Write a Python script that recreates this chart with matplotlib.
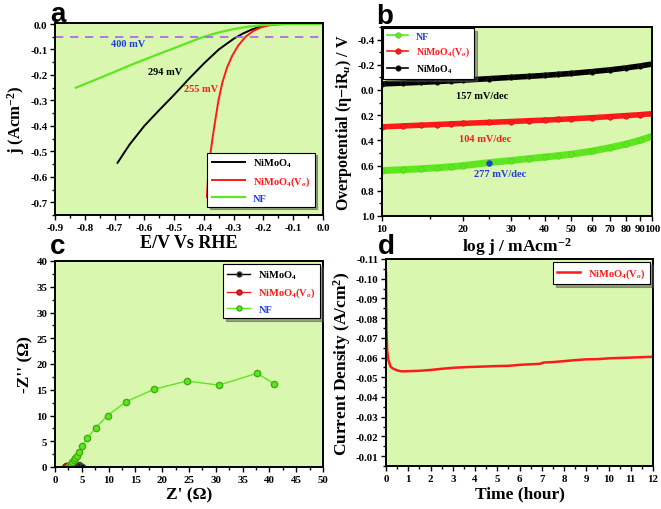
import numpy as np
import matplotlib
matplotlib.use('Agg')
import matplotlib.pyplot as plt
from matplotlib.ticker import MultipleLocator, FixedLocator, NullFormatter

# Fuentes y estilo general
plt.rcParams['font.family'] = ['Liberation Serif', 'DejaVu Serif']
plt.rcParams['font.weight'] = 'bold'
plt.rcParams['mathtext.fontset'] = 'custom'
plt.rcParams['mathtext.rm'] = 'Liberation Serif:bold'
plt.rcParams['mathtext.it'] = 'Liberation Serif:italic:bold'
plt.rcParams['mathtext.bf'] = 'Liberation Serif:bold'

BG = '#d9f7ae'
GREEN = '#5ee61e'
RED = '#ff1a1a'
BLUE = '#1f3fd9'

# ---------------- datos ----------------
# (a) LSV
nf_E = [-0.83, -0.75, -0.70, -0.65, -0.60, -0.55, -0.50, -0.45, -0.40, -0.35, -0.30, -0.25, -0.20, -0.15, -0.10, 0.0]
nf_j = [-0.250, -0.212, -0.188, -0.163, -0.140, -0.117, -0.095, -0.072, -0.050, -0.033, -0.020, -0.010, -0.004, -0.001, 0.0, 0.0]
ni_E = [-0.69, -0.65, -0.60, -0.55, -0.50, -0.45, -0.40, -0.35, -0.30, -0.27, -0.24, -0.21, -0.18, -0.15, -0.10, 0.0]
ni_j = [-0.545, -0.474, -0.400, -0.338, -0.278, -0.215, -0.155, -0.100, -0.058, -0.038, -0.022, -0.010, -0.003, 0.0, 0.0, 0.0]
vo_E = [-0.390, -0.387, -0.383, -0.377, -0.370, -0.362, -0.351, -0.338, -0.322, -0.305, -0.285, -0.260, -0.235, -0.210, -0.185, -0.160, -0.13, -0.10, 0.0]
vo_j = [-0.680, -0.620, -0.560, -0.500, -0.440, -0.380, -0.300, -0.230, -0.170, -0.125, -0.085, -0.050, -0.028, -0.014, -0.006, -0.002, 0.0, 0.0, 0.0]

# (b) Tafel
taf_x = [10, 12, 14, 16, 18, 20, 25, 30, 35, 40, 45, 50, 60, 70, 80, 90, 100]
taf_nf = [0.640, 0.632, 0.625, 0.617, 0.609, 0.600, 0.576, 0.560, 0.545, 0.532, 0.521, 0.510, 0.485, 0.457, 0.430, 0.400, 0.368]
taf_vo = [0.293, 0.285, 0.279, 0.274, 0.269, 0.265, 0.257, 0.250, 0.244, 0.239, 0.234, 0.229, 0.220, 0.211, 0.203, 0.196, 0.188]
taf_ni = [-0.048, -0.055, -0.061, -0.067, -0.073, -0.078, -0.090, -0.100, -0.108, -0.116, -0.124, -0.131, -0.146, -0.160, -0.175, -0.190, -0.206]

# (c) Nyquist
eis_nf_x = [2.5, 2.8, 3.0, 3.2, 3.5, 3.8, 4.1, 4.55, 5.1, 6.0, 7.6, 9.8, 13.3, 18.5, 24.6, 30.6, 37.7, 40.8]
eis_nf_y = [0.0, 0.3, 0.6, 0.95, 1.3, 1.7, 2.2, 2.9, 4.0, 5.6, 7.6, 10.0, 12.7, 15.1, 16.7, 15.9, 18.2, 16.2]
eis_ni_x = [3.6, 4.0, 4.4, 4.7, 5.0]
eis_ni_y = [0.0, 0.2, 0.3, 0.2, 0.0]
eis_vo_x = [1.8, 2.0, 2.3, 2.6]
eis_vo_y = [0.0, 0.1, 0.2, 0.25]

# (d) estabilidad
t_h = [0.0, 0.02, 0.05, 0.1, 0.2, 0.3, 0.5, 0.7, 1.0, 1.5, 2.0, 2.5, 3.0, 3.5, 4.0, 4.5, 5.0, 5.5, 6.0, 6.5, 6.9, 7.1, 7.5, 8.0, 8.5, 9.0, 9.5, 10.0, 10.5, 11.0, 11.5, 12.0]
cur_d = [-0.103, -0.075, -0.064, -0.059, -0.0555, -0.0545, -0.0535, -0.053, -0.0531, -0.0533, -0.0537, -0.0543, -0.0548, -0.0551, -0.0553, -0.0555, -0.0557, -0.0558, -0.0563, -0.0566, -0.0568, -0.0575, -0.0577, -0.0582, -0.0587, -0.0591, -0.0592, -0.0596, -0.0598, -0.0600, -0.0602, -0.0604]

fig = plt.figure(figsize=(6.61, 5.10), dpi=100)
W, H = 661, 510
TICK_FS = 7.8


def make_ax(l, t, r, b):
    return fig.add_axes([l / W, 1 - b / H, (r - l) / W, (b - t) / H])


def fmt(vals, nd):
    out = []
    for v in vals:
        if abs(v) < 1e-9:
            v = 0.0
        out.append(f'{v:.{nd}f}')
    return out


def style(ax):
    ax.set_facecolor(BG)
    for s in ax.spines.values():
        s.set_linewidth(1.4)
    ax.tick_params(which='both', direction='out', top=False, right=False,
                   labelsize=TICK_FS, width=1.0, pad=2)
    ax.tick_params(which='major', length=3.5)
    ax.tick_params(which='minor', length=2)
    for lb in ax.get_xticklabels() + ax.get_yticklabels():
        lb.set_fontweight('bold')


def color_legend(leg, colors):
    for txt, c in zip(leg.get_texts(), colors):
        txt.set_color(c)
    leg.get_frame().set_edgecolor('black')
    leg.get_frame().set_linewidth(0.8)


def letter(x, y, s):
    fig.text(x / W, 1 - y / H, s, fontsize=20, fontweight='bold',
             family='Liberation Sans', va='baseline', ha='left')


# ---------------- (a) ----------------
ax = make_ax(55, 24, 323, 216)
ax.plot(ni_E, ni_j, color='black', lw=1.4, label='NiMoO$_4$')
ax.plot(vo_E, vo_j, color=RED, lw=1.4, label='NiMoO$_4$(V$_o$)')
ax.plot(nf_E, nf_j, color=GREEN, lw=1.6, label='NF')
ax.axhline(-0.05, color='#b45cf0', lw=1.2, ls=(0, (5, 4)))
ax.set_xlim(-0.9, 0.0)
ax.set_ylim(-0.75, 0.004)
xt = np.arange(-0.9, 0.01, 0.1)
yt = np.arange(-0.7, 0.01, 0.1)
ax.set_xticks(xt)
ax.set_xticklabels(fmt(xt, 1))
ax.set_yticks(yt)
ax.set_yticklabels(fmt(yt, 1))
ax.xaxis.set_minor_locator(MultipleLocator(0.05))
ax.yaxis.set_minor_locator(MultipleLocator(0.05))
style(ax)
ax.set_xlabel('E/V Vs RHE', fontsize=13, fontweight='bold', labelpad=2)
ax.set_ylabel('j (Acm$^{-2}$)', fontsize=12, fontweight='bold', labelpad=2)
ax.text(-0.655, -0.075, '400 mV', color=BLUE, fontsize=7.5, ha='center', va='center')
ax.text(-0.53, -0.185, '294 mV', color='black', fontsize=7.5, ha='center', va='center')
ax.text(-0.41, -0.255, '255 mV', color=RED, fontsize=7.5, ha='center', va='center')
leg = ax.legend(loc='lower right', fontsize=7.5, handlelength=3.2, frameon=True,
                fancybox=False, shadow=True, borderaxespad=0.8, labelspacing=0.5)
color_legend(leg, ['black', RED, BLUE])
letter(50, 22, 'a')

# ---------------- (b) ----------------
ax = make_ax(382, 28, 652, 217)
ax.set_xscale('log')
ax.plot(taf_x, taf_nf, color=GREEN, lw=5, marker='o', ms=4, mfc=GREEN,
        mec='#4ccc18', mew=0.4, label='NF')
ax.plot(taf_x, taf_vo, color=RED, lw=4, marker='o', ms=4, mfc=RED,
        mec='#d01010', mew=0.4, label='NiMoO$_4$(V$_o$)')
ax.plot(taf_x, taf_ni, color='black', lw=4, marker='o', ms=4, mfc='black',
        mec='#333333', mew=0.4, label='NiMoO$_4$')
ax.plot([taf_x[6]], [taf_nf[6]], marker='o', ms=3.5, color=BLUE, ls='none')
ax.set_xlim(10, 100)
ax.set_ylim(1.0, -0.5)
ax.xaxis.set_major_locator(FixedLocator([10, 20, 30, 40, 50, 60, 70, 80, 90, 100]))
ax.xaxis.set_minor_locator(FixedLocator([15, 25, 35, 45]))
ax.xaxis.set_minor_formatter(NullFormatter())
ax.set_xticklabels(['10', '20', '30', '40', '50', '60', '70', '80', '90', '100'])
yt = np.arange(-0.4, 1.01, 0.2)
ax.set_yticks(yt)
ax.set_yticklabels(fmt(yt, 1))
ax.yaxis.set_minor_locator(MultipleLocator(0.1))
style(ax)
ax.set_xlabel('log j / mAcm$^{-2}$', fontsize=12.5, fontweight='bold', labelpad=2)
ax.set_ylabel('Overpotential (\u03b7\u2212iR$_u$) / V', fontsize=11.5, fontweight='bold', labelpad=2)
ax.text(23.5, 0.04, '157 mV/dec', color='black', fontsize=7.5, ha='center', va='center')
ax.text(24.0, 0.385, '104 mV/dec', color=RED, fontsize=7.5, ha='center', va='center')
ax.text(27.5, 0.665, '277 mV/dec', color=BLUE, fontsize=7.5, ha='center', va='center')
leg = ax.legend(loc='upper left', fontsize=7, handlelength=2.2, frameon=True,
                fancybox=False, shadow=True, borderaxespad=0.1, labelspacing=0.4,
                markerscale=1.0)
for h in leg.legend_handles:
    h.set_linewidth(1.2)
color_legend(leg, [BLUE, RED, 'black'])
letter(376, 24, 'b')

# ---------------- (c) ----------------
ax = make_ax(55, 262, 323, 468)
ax.plot(eis_ni_x, eis_ni_y, color='black', lw=1.0, marker='o', ms=4.5,
        mfc='black', mec='#444444', label='NiMoO$_4$')
ax.plot(eis_vo_x, eis_vo_y, color=RED, lw=1.0, marker='o', ms=4.5,
        mfc=RED, mec='#b01010', label='NiMoO$_4$(V$_o$)')
ax.plot(eis_nf_x, eis_nf_y, color=GREEN, lw=1.0, marker='o', ms=4.5,
        mfc=GREEN, mec='#3cb010', label='NF')
ax.set_xlim(0, 50)
ax.set_ylim(0, 40)
ax.xaxis.set_major_locator(MultipleLocator(5))
ax.xaxis.set_minor_locator(MultipleLocator(2.5))
ax.yaxis.set_major_locator(MultipleLocator(5))
ax.yaxis.set_minor_locator(MultipleLocator(2.5))
style(ax)
ax.set_xlabel("Z' (\u03a9)", fontsize=12.5, fontweight='bold', labelpad=2)
ax.set_ylabel("-Z'' (\u03a9)", fontsize=12.5, fontweight='bold', labelpad=2)
leg = ax.legend(loc='upper right', fontsize=7.5, handlelength=2.2, frameon=True,
                fancybox=False, shadow=True, borderaxespad=0.3, labelspacing=0.5,
                markerscale=0.8)
color_legend(leg, ['black', RED, BLUE])
letter(50, 254, 'c')

# ---------------- (d) ----------------
ax = make_ax(386, 260, 653, 467)
ax.plot(t_h, cur_d, color=RED, lw=1.8, label='NiMoO$_4$(V$_o$)')
ax.set_xlim(0, 12)
ax.set_ylim(-0.005, -0.11)
ax.xaxis.set_major_locator(MultipleLocator(1))
ax.xaxis.set_minor_locator(MultipleLocator(0.5))
yt = np.arange(-0.01, -0.111, -0.01)
ax.set_yticks(yt)
ax.set_yticklabels(fmt(yt, 2))
ax.yaxis.set_minor_locator(MultipleLocator(0.005))
style(ax)
ax.set_xlabel('Time (hour)', fontsize=12.5, fontweight='bold', labelpad=2)
ax.set_ylabel('Current Density (A/cm$^2$)', fontsize=12.5, fontweight='bold', labelpad=2)
leg = ax.legend(loc='upper right', fontsize=7.5, handlelength=2.2, frameon=True,
                fancybox=False, shadow=True, borderaxespad=0.3)
color_legend(leg, [RED])
letter(378, 254, 'd')

fig.savefig('out.png', dpi=100)
